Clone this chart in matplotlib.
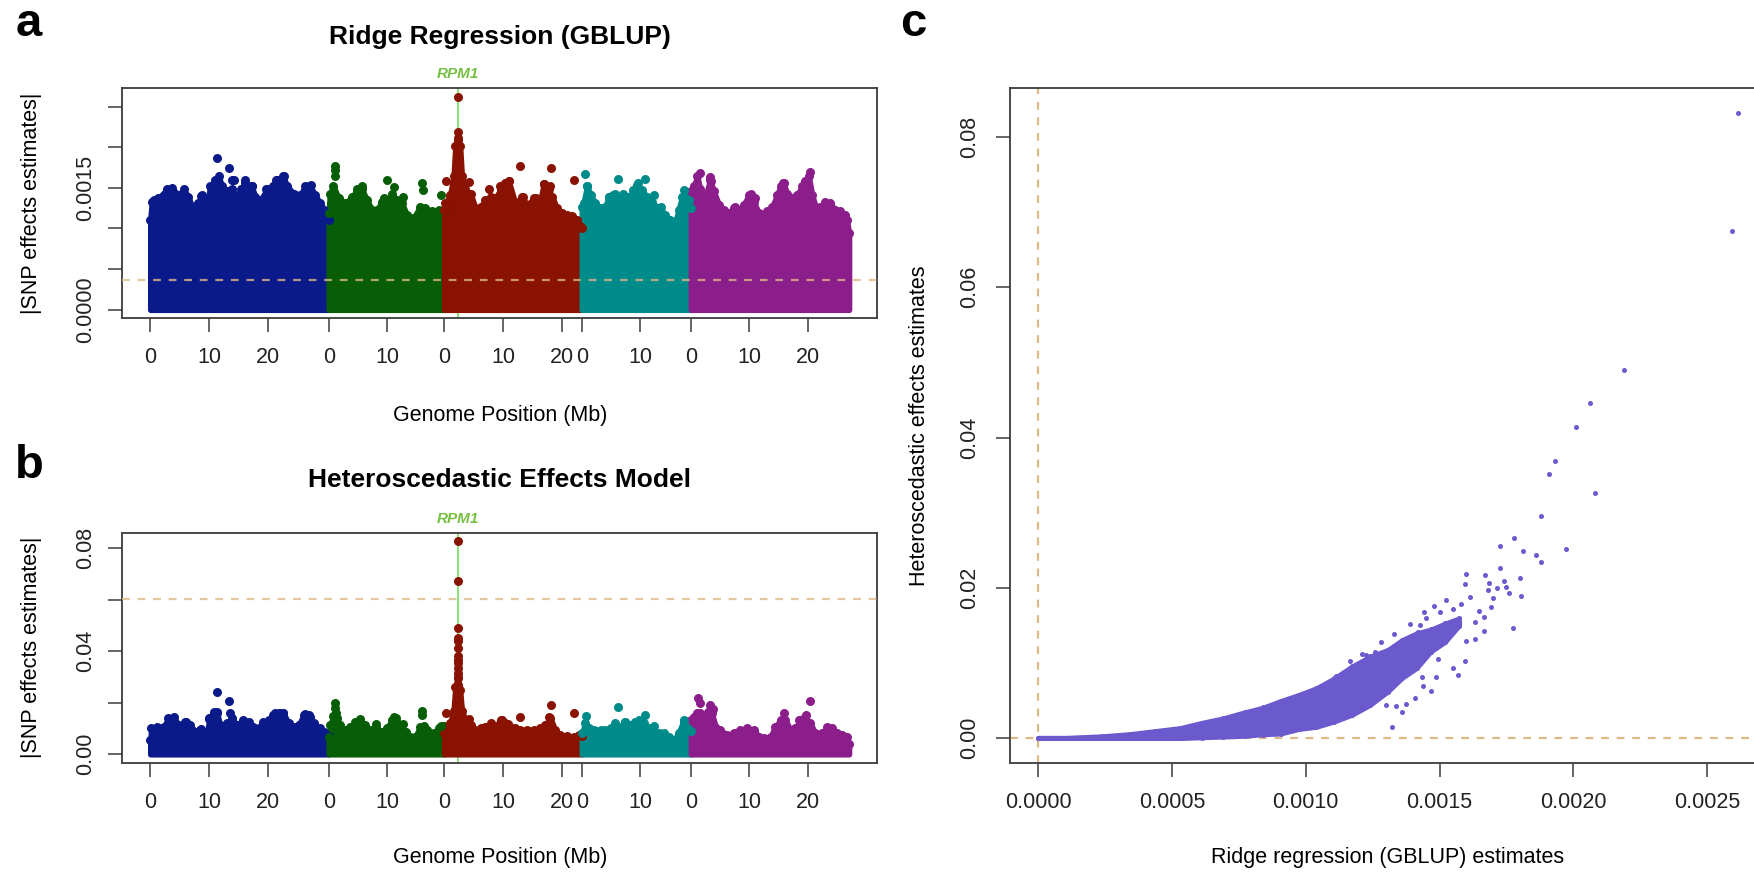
import numpy as np
import matplotlib
matplotlib.use("Agg")
import matplotlib.pyplot as plt

plt.rcParams['font.family'] = ['Liberation Sans', 'DejaVu Sans']

W, H = 1754, 873

# chromosome layout (Arabidopsis, Mb)
chrom_len = [30.43, 19.70, 23.46, 18.59, 26.98]
chrom_col = ['#0a1a8a', '#075e07', '#8a1200', '#008b8b', '#8b1e8b']
chrom_ticks = [[0, 10, 20], [0, 10], [0, 10, 20], [0, 10], [0, 10, 20]]
rpm1_chrom, rpm1_pos = 3, 2.3

# panel a: ridge regression, upper edge of the dense cloud per chromosome (Mb, |effect|)
ridge_edge_chr1 = [(0.0, 0.00111), (0.3, 0.00133), (0.6, 0.00135), (1.4, 0.00137), (2.8, 0.00148),
                   (3.7, 0.00150), (4.8, 0.00141), (5.7, 0.00148), (6.5, 0.00139), (7.1, 0.00127),
                   (8.2, 0.00131), (8.8, 0.00141), (9.7, 0.00127), (10.2, 0.00152), (11.1, 0.00160),
                   (11.7, 0.00164), (12.2, 0.00152), (13.1, 0.00146), (13.9, 0.00148), (14.8, 0.00139),
                   (15.4, 0.00148), (16.2, 0.00156), (17.3, 0.00152), (17.9, 0.00139), (18.8, 0.00135),
                   (19.9, 0.00148), (21.0, 0.00152), (21.6, 0.00160), (22.7, 0.00164), (23.3, 0.00152),
                   (24.5, 0.00143), (25.6, 0.00141), (26.4, 0.00152), (27.3, 0.00152), (28.1, 0.00141),
                   (29.0, 0.00131), (29.7, 0.00123), (30.4, 0.00110)]
ridge_edge_chr2 = [(0.0, 0.00119), (0.2, 0.00143), (0.8, 0.00152), (1.7, 0.00137), (2.8, 0.00131),
                   (4.0, 0.00139), (4.9, 0.00148), (5.7, 0.00148), (6.5, 0.00135), (7.4, 0.00123),
                   (8.2, 0.00123), (9.1, 0.00133), (9.9, 0.00131), (10.8, 0.00143), (11.6, 0.00135),
                   (12.5, 0.00131), (13.3, 0.00117), (14.5, 0.00113), (15.6, 0.00127), (16.5, 0.00125),
                   (17.6, 0.00121), (18.8, 0.00123), (19.7, 0.00123)]
ridge_edge_chr3 = [(0.0, 0.00123), (0.2, 0.00131), (1.0, 0.00141), (1.6, 0.00164), (1.9, 0.00201),
                   (2.3, 0.00211), (2.7, 0.00201), (3.0, 0.00164), (3.6, 0.00148), (4.5, 0.00143),
                   (5.3, 0.00125), (6.2, 0.00127), (7.0, 0.00135), (7.9, 0.00139), (8.7, 0.00137),
                   (9.6, 0.00148), (10.4, 0.00156), (11.0, 0.00158), (12.1, 0.00131), (13.3, 0.00139),
                   (14.1, 0.00129), (15.3, 0.00137), (16.4, 0.00135), (17.0, 0.00155), (17.8, 0.00148),
                   (18.4, 0.00139), (19.2, 0.00125), (20.1, 0.00119), (20.9, 0.00117), (21.8, 0.00115),
                   (22.6, 0.00111), (23.1, 0.00103), (23.46, 0.00100)]
ridge_edge_chr4 = [(0.0, 0.00127), (0.3, 0.00131), (0.9, 0.00152), (1.5, 0.00141), (2.3, 0.00131),
                   (3.2, 0.00125), (4.0, 0.00127), (4.6, 0.00139), (5.4, 0.00141), (6.3, 0.00137),
                   (7.1, 0.00143), (8.0, 0.00139), (8.8, 0.00147), (9.4, 0.00154), (10.3, 0.00147),
                   (11.1, 0.00139), (12.0, 0.00133), (12.5, 0.00127), (13.4, 0.00125), (14.2, 0.00117),
                   (15.1, 0.00111), (16.0, 0.00109), (16.5, 0.00123), (17.1, 0.00139), (17.7, 0.00145),
                   (18.2, 0.00135), (18.59, 0.00125)]
ridge_edge_chr5 = [(0.0, 0.00146), (0.5, 0.00152), (1.1, 0.00164), (1.6, 0.00148), (2.5, 0.00139),
                   (3.3, 0.00160), (3.9, 0.00146), (4.8, 0.00129), (5.6, 0.00123), (6.5, 0.00119),
                   (7.3, 0.00125), (8.2, 0.00123), (9.0, 0.00129), (9.9, 0.00141), (10.7, 0.00133),
                   (11.6, 0.00119), (12.1, 0.00111), (13.0, 0.00121), (13.9, 0.00127), (14.7, 0.00141),
                   (15.3, 0.00152), (15.8, 0.00156), (16.4, 0.00143), (17.3, 0.00137), (18.1, 0.00141),
                   (19.0, 0.00152), (19.5, 0.00158), (20.1, 0.00164), (20.7, 0.00141), (21.5, 0.00121),
                   (22.1, 0.00127), (22.9, 0.00133), (23.8, 0.00131), (24.6, 0.00123), (25.5, 0.00121),
                   (26.3, 0.00117), (26.6, 0.00111), (26.98, 0.00094)]
# isolated SNPs above the cloud (chromosome, Mb, |effect|)
ridge_peaks = [(1, 11.4, 0.00187), (1, 13.5, 0.00174), (1, 13.9, 0.00160), (1, 14.3, 0.00160),
               (1, 16.2, 0.00160), (1, 17.3, 0.00152), (1, 19.7, 0.00149), (1, 21.5, 0.00160),
               (1, 22.8, 0.00164), (1, 27.0, 0.00152), (1, 27.4, 0.00153), (1, 8.6, 0.00140),
               (2, 1.0, 0.00177), (2, 1.1, 0.00172), (2, 1.1, 0.00164), (2, 9.9, 0.00160),
               (2, 11.1, 0.00151), (2, 12.7, 0.00139), (2, 15.9, 0.00156), (2, 16.1, 0.00147),
               (2, 19.2, 0.00141), (2, 5.7, 0.00152), (2, 4.8, 0.00146), (2, 9.4, 0.00137),
               (3, 2.3, 0.00262), (3, 2.3, 0.00219), (3, 2.3, 0.00209), (3, 0.35, 0.00158),
               (3, 4.3, 0.00157), (3, 7.7, 0.00148), (3, 9.5, 0.00152), (3, 12.9, 0.00177),
               (3, 18.2, 0.00175), (3, 22.1, 0.00160), (3, 11.0, 0.00158), (3, 17.0, 0.00155),
               (3, 18.0, 0.00152), (3, 13.4, 0.00139), (3, 15.7, 0.00137),
               (4, 0.6, 0.00167), (4, 0.9, 0.00152), (4, 6.1, 0.00161), (4, 10.7, 0.00161),
               (4, 9.6, 0.00156), (4, 12.3, 0.00141), (4, 13.5, 0.00126), (4, 17.4, 0.00147),
               (4, 17.4, 0.00137), (4, 5.7, 0.00143), (4, 4.6, 0.00139),
               (5, 1.5, 0.00168), (5, 3.3, 0.00163), (5, 3.5, 0.00158), (5, 20.4, 0.00169),
               (5, 19.3, 0.00154), (5, 15.9, 0.00156), (5, 10.2, 0.00143), (5, 10.9, 0.00137),
               (5, 7.6, 0.00126)]
ridge_threshold = 0.00037

# panel b: heteroscedastic effects model, same layout
hem_edge_chr1 = [(0.0, 0.0056), (0.2, 0.0101), (1.1, 0.0107), (2.3, 0.0107), (3.1, 0.0140), (4.0, 0.0146),
                 (4.8, 0.0114), (6.0, 0.0127), (6.8, 0.0114), (7.7, 0.0088), (8.5, 0.0095), (9.7, 0.0082),
                 (10.1, 0.0140), (10.8, 0.0166), (11.4, 0.0159), (11.9, 0.0114), (13.1, 0.0120),
                 (13.9, 0.0140), (14.8, 0.0114), (15.9, 0.0133), (16.8, 0.0127), (17.6, 0.0107),
                 (18.5, 0.0101), (19.3, 0.0127), (20.2, 0.0133), (21.0, 0.0153), (21.9, 0.0159),
                 (22.7, 0.0159), (23.6, 0.0120), (24.5, 0.0107), (25.3, 0.0114), (26.2, 0.0153),
                 (27.0, 0.0153), (27.9, 0.0120), (29.0, 0.0101), (29.7, 0.0088), (30.4, 0.0070)]
hem_edge_chr2 = [(0.0, 0.0069), (0.3, 0.0114), (0.8, 0.0150), (1.4, 0.0140), (2.0, 0.0114), (2.8, 0.0095),
                 (3.7, 0.0107), (4.5, 0.0127), (5.4, 0.0130), (6.2, 0.0114), (7.1, 0.0095), (8.0, 0.0107),
                 (8.8, 0.0088), (9.9, 0.0101), (10.8, 0.0133), (11.4, 0.0140), (12.2, 0.0114),
                 (13.1, 0.0088), (13.9, 0.0069), (14.8, 0.0069), (15.6, 0.0107), (16.2, 0.0110),
                 (16.8, 0.0095), (17.9, 0.0082), (18.8, 0.0101), (19.7, 0.0110)]
hem_edge_chr3 = [(0.0, 0.0082), (0.2, 0.0101), (1.0, 0.0120), (1.6, 0.0170), (1.9, 0.0260), (2.3, 0.0300),
                 (2.7, 0.0250), (3.0, 0.0170), (3.6, 0.0133), (4.5, 0.0114), (5.3, 0.0095), (6.2, 0.0101),
                 (7.0, 0.0107), (7.9, 0.0120), (8.7, 0.0107), (9.6, 0.0133), (10.4, 0.0120),
                 (11.3, 0.0107), (12.1, 0.0101), (13.0, 0.0095), (14.1, 0.0095), (15.3, 0.0095),
                 (16.4, 0.0101), (17.2, 0.0114), (18.1, 0.0140), (18.9, 0.0095), (19.8, 0.0075),
                 (20.9, 0.0071), (22.1, 0.0069), (22.9, 0.0075), (23.46, 0.0070)]
hem_edge_chr4 = [(0.0, 0.0082), (0.6, 0.0120), (1.2, 0.0101), (2.0, 0.0095), (3.2, 0.0095), (4.0, 0.0095),
                 (4.9, 0.0101), (5.7, 0.0120), (6.6, 0.0107), (7.4, 0.0127), (8.3, 0.0114), (9.1, 0.0127),
                 (9.7, 0.0133), (10.6, 0.0120), (11.4, 0.0101), (12.3, 0.0088), (13.1, 0.0082),
                 (14.0, 0.0082), (14.8, 0.0069), (15.7, 0.0056), (16.5, 0.0082), (17.4, 0.0133),
                 (17.9, 0.0107), (18.59, 0.0090)]
hem_edge_chr5 = [(0.0, 0.0133), (0.5, 0.0146), (1.1, 0.0160), (1.6, 0.0160), (2.2, 0.0133), (3.0, 0.0166),
                 (3.6, 0.0160), (4.2, 0.0107), (5.0, 0.0095), (6.2, 0.0075), (7.3, 0.0082), (8.4, 0.0095),
                 (9.6, 0.0101), (10.7, 0.0095), (11.6, 0.0069), (12.4, 0.0062), (13.6, 0.0069),
                 (14.4, 0.0107), (15.3, 0.0133), (16.1, 0.0133), (17.0, 0.0095), (17.8, 0.0101),
                 (18.7, 0.0133), (19.5, 0.0146), (20.4, 0.0120), (21.2, 0.0082), (22.4, 0.0082),
                 (23.2, 0.0107), (24.1, 0.0101), (24.9, 0.0082), (25.8, 0.0075), (26.6, 0.0069),
                 (26.98, 0.0040)]
hem_peaks = [(1, 11.4, 0.0243), (1, 13.5, 0.0207), (1, 13.6, 0.0162), (1, 10.1, 0.0137), (1, 11.4, 0.0166),
             (1, 21.3, 0.0159), (1, 22.7, 0.0162), (1, 26.4, 0.0155), (1, 27.3, 0.0146), (1, 6.1, 0.0127),
             (1, 8.7, 0.0100),
             (2, 1.0, 0.0198), (2, 1.1, 0.0179), (2, 1.2, 0.0159), (2, 8.0, 0.0118), (2, 11.1, 0.0146),
             (2, 12.7, 0.0118), (2, 15.9, 0.0170), (2, 15.9, 0.0153), (2, 19.2, 0.0110), (2, 5.3, 0.0136),
             (3, 2.3, 0.0828), (3, 2.3, 0.0673), (3, 2.3, 0.0489), (3, 2.3, 0.0450), (3, 2.3, 0.0441),
             (3, 2.3, 0.0412), (3, 2.3, 0.0380), (3, 2.3, 0.0366), (3, 2.3, 0.0353), (3, 2.3, 0.0334),
             (3, 2.3, 0.0315), (3, 2.3, 0.0295), (3, 2.3, 0.0269), (3, 0.35, 0.0162), (3, 4.3, 0.0137),
             (3, 12.9, 0.0146), (3, 18.2, 0.0192), (3, 17.9, 0.0144), (3, 22.1, 0.0159), (3, 9.8, 0.0133),
             (3, 10.9, 0.0118),
             (4, 0.7, 0.0149), (4, 6.1, 0.0185), (4, 10.7, 0.0153), (4, 12.3, 0.0110), (4, 17.4, 0.0129),
             (4, 7.4, 0.0126), (4, 9.4, 0.0127),
             (5, 1.3, 0.0218), (5, 1.5, 0.0198), (5, 3.3, 0.0192), (5, 3.7, 0.0175), (5, 20.4, 0.0207),
             (5, 19.7, 0.0152), (5, 18.4, 0.0133), (5, 15.9, 0.0162), (5, 10.7, 0.0088)]
hem_threshold = 0.0603

# panel c: dense band of ridge vs HEM estimates, then the scattered SNPs
band_x = [0.0, 0.000104, 0.000237, 0.000344, 0.000438, 0.000531, 0.000612, 0.000692, 0.000772, 0.000839,
          0.000906, 0.000973, 0.00104, 0.001106, 0.001173, 0.00124, 0.001307, 0.00136, 0.001414,
          0.001467, 0.001521, 0.001574]
band_high = [0.0001, 0.0001, 0.0003, 0.0006, 0.0010, 0.0014, 0.0021, 0.0027, 0.0035, 0.0041, 0.0050,
             0.0058, 0.0067, 0.0080, 0.0096, 0.0109, 0.0118, 0.0131, 0.0140, 0.0145, 0.0153, 0.0160]
band_low = [0.0, 0.0, 0.0, 0.0, 0.0, 0.0, 0.0001, 0.0002, 0.0003, 0.0005, 0.0006, 0.0012, 0.0015, 0.0022,
            0.0031, 0.0044, 0.0062, 0.0080, 0.0093, 0.0115, 0.0128, 0.0150]
pts_ridge = [0.002616, 0.002592, 0.00219, 0.002062, 0.002011, 0.00193, 0.001908, 0.002082, 0.001879,
             0.001974, 0.001777, 0.001725, 0.001812, 0.00186, 0.001879, 0.001725, 0.001598, 0.00167,
             0.001801, 0.001685, 0.001594, 0.001742, 0.001714, 0.001681, 0.001748, 0.001761, 0.001614,
             0.001805, 0.001523, 0.001701, 0.00148, 0.00158, 0.001648, 0.001443, 0.001692, 0.001668,
             0.001634, 0.001775, 0.001665, 0.001427, 0.00142, 0.001632, 0.001598, 0.001594, 0.001494,
             0.001551, 0.001571, 0.001487, 0.001434, 0.00144, 0.001467, 0.001407, 0.001374, 0.001336,
             0.0013, 0.00136, 0.001324, 0.001166, 0.001224, 0.00126, 0.001113,
             0.00121, 0.00128, 0.00133, 0.00139, 0.00145, 0.00150, 0.00155, 0.00119, 0.00126, 0.00131]
pts_hem = [0.08314, 0.06742, 0.04903, 0.04458, 0.0414, 0.03687, 0.0351, 0.03257, 0.02951,
           0.0252, 0.02671, 0.0256, 0.02485, 0.0244, 0.02347, 0.02263, 0.02188, 0.0217,
           0.02134, 0.02063, 0.02046, 0.0209, 0.02001, 0.01975, 0.0201, 0.0193, 0.01877,
           0.01899, 0.01846, 0.01864, 0.01766, 0.01788, 0.01699, 0.01677, 0.01753, 0.01611,
           0.01544, 0.01464, 0.01429, 0.01509, 0.01411, 0.01327, 0.013, 0.01034, 0.01056,
           0.00932, 0.00847, 0.00812, 0.00821, 0.00701, 0.00626, 0.00537, 0.00457, 0.00426,
           0.00444, 0.00346, 0.00155, 0.01034, 0.01109, 0.01154, 0.00834,
           0.0112, 0.0128, 0.0139, 0.0152, 0.0160, 0.0168, 0.0172, 0.0064, 0.0078, 0.0092]

tan = '#deb887'
axis_col = '#3c3c3c'
offsets = np.concatenate([[0.0], np.cumsum(chrom_len)[:-1]])
genome_len = float(np.sum(chrom_len))


def box(left, top, right, bottom):
    return [left / W, 1 - bottom / H, (right - left) / W, (bottom - top) / H]


def ftext(px, py, s, **kw):
    fig.text(px / W, 1 - py / H, s, ha='center', va='center', **kw)


def style_axis(ax, ypad):
    for sp in ax.spines.values():
        sp.set_color(axis_col)
        sp.set_linewidth(1.3)
    ax.tick_params(length=10, width=1.1, color=axis_col, labelsize=15.5, labelcolor='#222222')
    ax.tick_params(axis='x', pad=11)
    ax.tick_params(axis='y', pad=ypad, labelrotation=90)
    for t in ax.get_yticklabels():
        t.set_va('center')


def manhattan(ax, edges, peaks, threshold, yticks, ylabels):
    for i, edge in enumerate(edges):
        pos = offsets[i] + np.array([p for p, v in edge])
        val = np.array([v for p, v in edge])
        ax.fill_between(pos, 0, val, color=chrom_col[i], edgecolor=chrom_col[i],
                        linewidth=4.0, joinstyle='round', zorder=2)
        ax.scatter(pos, val, s=42, color=chrom_col[i], linewidths=0, zorder=3)
    for c, p, v in peaks:
        ax.scatter(offsets[c - 1] + p, v, s=42, color=chrom_col[c - 1], linewidths=0, zorder=3)
    ymax = max(v for c, p, v in peaks)
    ax.axhline(threshold, color=tan, lw=1.6, ls=(0, (3.5, 3.5)), alpha=0.8, zorder=4)
    ax.axvline(offsets[rpm1_chrom - 1] + rpm1_pos, color='#7ee06a', lw=1.3, zorder=1)
    ax.annotate('RPM1', xy=(offsets[rpm1_chrom - 1] + rpm1_pos, 1.06),
                xycoords=('data', 'axes fraction'), ha='center', va='center',
                fontsize=11, fontweight='bold', fontstyle='italic', color='#76c043')
    ax.set_xlim(-0.04 * genome_len, 1.04 * genome_len)
    ax.set_ylim(-0.04 * ymax, 1.04 * ymax)
    tick_pos = [offsets[i] + t for i, tl in enumerate(chrom_ticks) for t in tl]
    tick_lab = [str(t) for tl in chrom_ticks for t in tl]
    ax.set_xticks(tick_pos)
    ax.set_xticklabels(tick_lab)
    ax.set_yticks(yticks)
    ax.set_yticklabels(ylabels)
    style_axis(ax, 9)


fig = plt.figure(figsize=(W / 100, H / 100), dpi=100)

ax_a = fig.add_axes(box(122.3, 88.3, 877, 318.3))
manhattan(ax_a, [ridge_edge_chr1, ridge_edge_chr2, ridge_edge_chr3, ridge_edge_chr4, ridge_edge_chr5],
          ridge_peaks, ridge_threshold,
          [0, 0.0005, 0.001, 0.0015, 0.002, 0.0025], ['0.0000', '', '', '0.0015', '', ''])

ax_b = fig.add_axes(box(122.3, 532.7, 877, 762.8))
manhattan(ax_b, [hem_edge_chr1, hem_edge_chr2, hem_edge_chr3, hem_edge_chr4, hem_edge_chr5],
          hem_peaks, hem_threshold,
          [0, 0.02, 0.04, 0.06, 0.08], ['0.00', '', '0.04', '', '0.08'])

ax_c = fig.add_axes(box(1010.3, 88.3, 1766, 763.3))
violet = '#6a5acd'
ax_c.axhline(0, color=tan, lw=1.6, ls=(0, (3.5, 3.5)), zorder=1)
ax_c.axvline(0, color=tan, lw=1.6, ls=(0, (3.5, 3.5)), zorder=1)
ax_c.fill_between(band_x, band_low, band_high, color=violet, edgecolor=violet,
                  linewidth=3.2, joinstyle='round', zorder=2)
ax_c.scatter(band_x, band_high, s=13, color=violet, linewidths=0, zorder=3)
ax_c.scatter(band_x, band_low, s=13, color=violet, linewidths=0, zorder=3)
ax_c.scatter(pts_ridge, pts_hem, s=13, color=violet, linewidths=0, zorder=3)
xmax, ymax = max(pts_ridge), max(pts_hem)
ax_c.set_xlim(-0.04 * xmax, 1.04 * xmax)
ax_c.set_ylim(-0.04 * ymax, 1.04 * ymax)
ax_c.set_xticks([0, 0.0005, 0.001, 0.0015, 0.002, 0.0025])
ax_c.set_xticklabels(['0.0000', '0.0005', '0.0010', '0.0015', '0.0020', '0.0025'])
ax_c.set_yticks([0, 0.02, 0.04, 0.06, 0.08])
ax_c.set_yticklabels(['0.00', '0.02', '0.04', '0.06', '0.08'])
style_axis(ax_c, 12)

# titles, axis labels, panel letters
ftext(499.7, 37, 'Ridge Regression (GBLUP)', fontsize=19, fontweight='bold')
ftext(499.7, 480, 'Heteroscedastic Effects Model', fontsize=19, fontweight='bold')
ftext(499.7, 415, 'Genome Position (Mb)', fontsize=15.5)
ftext(499.7, 858, 'Genome Position (Mb)', fontsize=15.5)
ftext(31.6, 203.3, '|SNP effects estimates|', fontsize=15.5, rotation=90)
ftext(31.6, 647.7, '|SNP effects estimates|', fontsize=15.5, rotation=90)
ftext(1388, 858, 'Ridge regression (GBLUP) estimates', fontsize=15.5)
ftext(919, 425.8, 'Heteroscedastic effects estimates', fontsize=15.5, rotation=90)
ftext(29, 24, 'a', fontsize=34, fontweight='heavy')
ftext(29, 466, 'b', fontsize=34, fontweight='heavy')
ftext(913, 24, 'c', fontsize=34, fontweight='heavy')

fig.savefig('out.png', dpi=100)
